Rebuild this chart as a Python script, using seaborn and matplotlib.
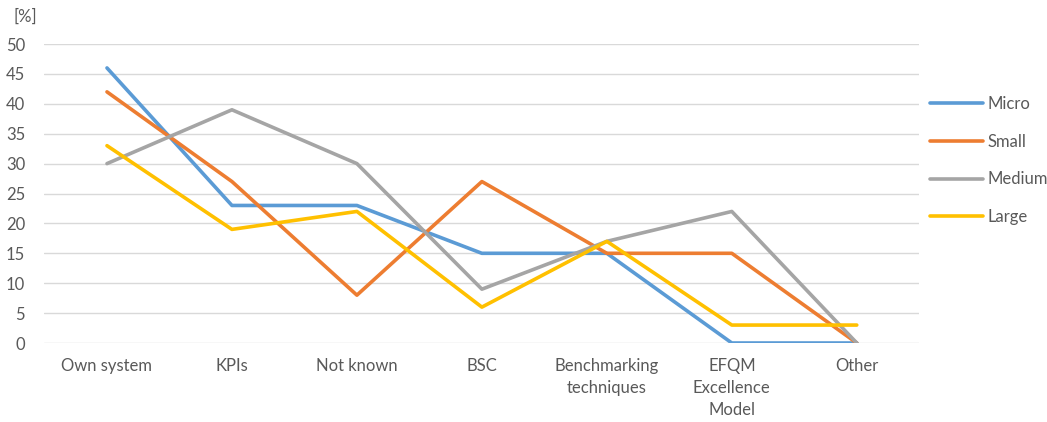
import matplotlib
matplotlib.use("Agg")
import matplotlib.pyplot as plt
import numpy as np
import pandas as pd
import seaborn as sns

categories = ["Own system", "KPIs", "Not known", "BSC", "Benchmarking\ntechniques",
              "EFQM\nExcellence\nModel", "Other"]
micro = [46, 23, 23, 15, 15, 0, 0]
small = [42, 27, 8, 27, 15, 15, 0]
medium = [30, 39, 30, 9, 17, 22, 0]
large = [33, 19, 22, 6, 17, 3, 3]
series_names = ["Micro", "Small", "Medium", "Large"]
colors = ["#5B9BD5", "#ED7D31", "#A5A5A5", "#FFC000"]

rows = []
for name, vals in zip(series_names, [micro, small, medium, large]):
    for c, v in zip(categories, vals):
        rows.append({"category": c, "value": v, "series": name})
df = pd.DataFrame(rows)

sns.set_style("white")
plt.rcParams["font.family"] = ["Lato", "DejaVu Sans"]
text_color = "#595959"
fs = 12

fig = plt.figure(figsize=(10.47, 4.22), dpi=100)
ax = fig.add_axes([0.0425, 0.1872, 0.8355, 0.7085])

sns.lineplot(data=df, x="category", y="value", hue="series", hue_order=series_names,
             palette=colors, linewidth=2.6, sort=False, ax=ax)

ax.set_xlim(-0.5, 6.5)
ax.set_ylim(0, 50)
ax.set_yticks(np.arange(0, 51, 5))
ax.yaxis.grid(True, color="#D9D9D9", linewidth=1)
ax.set_axisbelow(True)
for s in ax.spines.values():
    s.set_visible(False)
ax.tick_params(axis="both", length=0, colors=text_color, labelsize=fs)
ax.tick_params(axis="y", pad=14)
ax.tick_params(axis="x", pad=11)
for lbl in ax.get_xticklabels():
    lbl.set_linespacing(1.45)
ax.set_xlabel("")
ax.set_ylabel("")
fig.text(0.024, 0.96, "[%]", color=text_color, fontsize=fs, ha="center", va="center")

handles, labels = ax.get_legend_handles_labels()
ax.legend_.remove()
fig.legend(handles, labels, loc="upper left", bbox_to_anchor=(0.874, 0.808), frameon=False,
           fontsize=fs, labelcolor=text_color, handlelength=3.2, handletextpad=0.25,
           labelspacing=1.3)

fig.savefig("out.png", dpi=100)
